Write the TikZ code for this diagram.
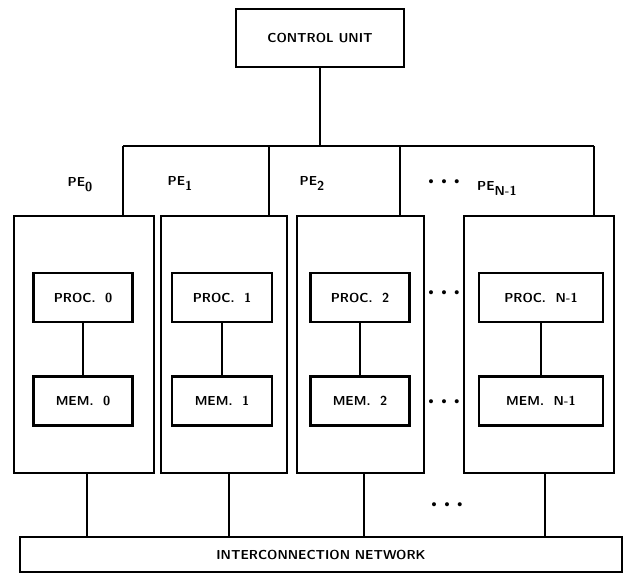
\documentclass[tikz,border=0pt]{standalone}
\usepackage{tikz}
\usetikzlibrary{positioning,calc}

\begin{document}
\begin{tikzpicture}[
    x=1pt, y=-1pt,
    every node/.style={font=\fontsize{13}{15}\selectfont\sffamily\bfseries},
    unit/.style={rectangle, draw, line width=2.6pt, inner sep=0pt},
    pebox/.style={unit, minimum height=257pt},
    part/.style={unit, minimum height=49pt},
    lbl/.style={inner sep=1pt},
    dots/.style={inner sep=0pt, font=\fontsize{18}{18}\selectfont},
    wire/.style={line width=2.6pt}
]
\useasboundingbox (0,0) rectangle (624,573);

\node[unit, minimum width=168pt, minimum height=58pt] (cu) at (320,38) {CONTROL UNIT};

% processing elements
\node[pebox, minimum width=140pt] (pe0) at (84,344.5) {};
\node[pebox, minimum width=126pt] (pe1) at (224,344.5) {};
\node[pebox, minimum width=127pt] (pe2) at (360.5,344.5) {};
\node[pebox, minimum width=150pt] (pen) at (539,344.5) {};

\node[part, minimum width=99pt] (proc0) at (83,297.5) {PROC.~~0};
\node[part, minimum width=100pt] (proc1) at (222,297.5) {PROC.~~1};
\node[part, minimum width=99pt] (proc2) at (360,297.5) {PROC.~~2};
\node[part, minimum width=124pt] (procn) at (541,297.5) {PROC.~~N-1};

\node[part, minimum width=99pt, below=52pt of proc0] (mem0) {MEM.~~0};
\node[part, minimum width=100pt, below=52pt of proc1] (mem1) {MEM.~~1};
\node[part, minimum width=99pt, below=52pt of proc2] (mem2) {MEM.~~2};
\node[part, minimum width=124pt, below=52pt of procn] (memn) {MEM.~~N-1};

\node[unit, minimum width=602pt, minimum height=35pt] (net) at (321,554.5) {INTERCONNECTION NETWORK};

% labels
\node[lbl] (l0) at (80,185) {PE\raisebox{-5pt}{0}};
\node[lbl] (l1) at (180,183) {PE\raisebox{-5pt}{1}};
\node[lbl] (l2) at (312,183) {PE\raisebox{-5pt}{2}};
\node[lbl] (ln) at (497,188) {PE\raisebox{-5pt}{N-1}};
\node[dots] (d0) at (444,183) {\textbullet\textbullet\textbullet};
\node[dots] (d1) at (444,294) {\textbullet\textbullet\textbullet};
\node[dots] (d2) at (444,403) {\textbullet\textbullet\textbullet};
\node[dots] (d3) at (447,506) {\textbullet\textbullet\textbullet};

% control bus
\coordinate (b0) at (123,146);
\coordinate (b1) at (269,146);
\coordinate (b2) at (400,146);
\coordinate (bn) at (594,146);
\draw[wire] (cu.south) -- (cu.south |- b0);
\draw[wire] (b0) -- (bn);
\draw[wire] (b0) -- (b0 |- pe0.north);
\draw[wire] (b1) -- (b1 |- pe1.north);
\draw[wire] (b2) -- (b2 |- pe2.north);
\draw[wire] (bn) -- (bn |- pen.north);

% inside the PEs
\draw[wire] (proc0) -- (mem0);
\draw[wire] (proc1) -- (mem1);
\draw[wire] (proc2) -- (mem2);
\draw[wire] (procn) -- (memn);

% to the network
\coordinate (n0) at (87,473);
\coordinate (n1) at (229,473);
\coordinate (n2) at (364,473);
\coordinate (nn) at (545,473);
\draw[wire] (n0) -- (n0 |- net.north);
\draw[wire] (n1) -- (n1 |- net.north);
\draw[wire] (n2) -- (n2 |- net.north);
\draw[wire] (nn) -- (nn |- net.north);
\end{tikzpicture}
\end{document}
